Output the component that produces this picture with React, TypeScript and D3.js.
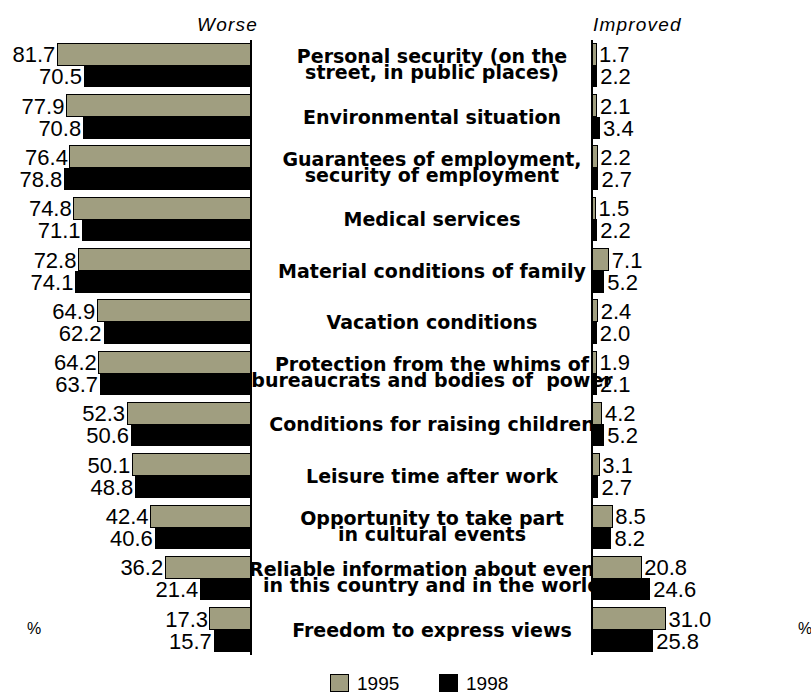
import React from "react";
import * as d3 from "d3";

const categories: string[][] = [
  ["Personal security (on the", "street, in public places)"],
  ["Environmental situation"],
  ["Guarantees of employment,", "security of employment"],
  ["Medical services"],
  ["Material conditions of family"],
  ["Vacation conditions"],
  ["Protection from the whims of", "bureaucrats and bodies of  power"],
  ["Conditions for raising children"],
  ["Leisure time after work"],
  ["Opportunity to take part", "in cultural events"],
  ["Reliable information about events", "in this country and in the world"],
  ["Freedom to express views"],
];

const years = ["1995", "1998"];

const worse1995 = [81.7, 77.9, 76.4, 74.8, 72.8, 64.9, 64.2, 52.3, 50.1, 42.4, 36.2, 17.3];
const worse1998 = [70.5, 70.8, 78.8, 71.1, 74.1, 62.2, 63.7, 50.6, 48.8, 40.6, 21.4, 15.7];
const improved1995 = [1.7, 2.1, 2.2, 1.5, 7.1, 2.4, 1.9, 4.2, 3.1, 8.5, 20.8, 31.0];
const improved1998 = [2.2, 3.4, 2.7, 2.2, 5.2, 2.0, 2.1, 5.2, 2.7, 8.2, 24.6, 25.8];

const W = 811;
const H = 694;
const TAN = "#a09e80";
const colors: Record<string, string> = { "1995": TAN, "1998": "#000000" };

export default function App() {
  const leftZero = 251;
  const rightZero = 592;
  const pxPerUnit = 2.37;
  const y = d3
    .scaleBand<number>()
    .domain(d3.range(categories.length))
    .range([39.66, 655.26])
    .paddingInner(0.142)
    .paddingOuter(0.071);
  const ySub = d3.scaleBand<string>().domain(years).range([0, y.bandwidth()]);
  const xL = d3.scaleLinear().domain([0, 100]).range([leftZero, leftZero - 100 * pxPerUnit]);
  const xR = d3.scaleLinear().domain([0, 100]).range([rightZero, rightZero + 100 * pxPerUnit]);

  const worse: Record<string, number[]> = { "1995": worse1995, "1998": worse1998 };
  const improved: Record<string, number[]> = { "1995": improved1995, "1998": improved1998 };

  const labelX = 432;
  const valueFont = "'Liberation Sans', Arial, sans-serif";
  const catFont = "'DejaVu Sans', sans-serif";

  return (
    <svg
      width={W}
      height={H}
      viewBox={`0 0 ${W} ${H}`}
      style={{ position: "absolute", left: 0, top: 0, background: "#fff" }}
    >
      <rect x={0} y={0} width={W} height={H} fill="#fff" />
      {/* headers */}
      <text
        x={leftZero + 7}
        y={31}
        textAnchor="end"
        fontFamily={valueFont}
        fontStyle="italic"
        fontSize={19}
        letterSpacing={1.2}
        fill="#000"
      >
        Worse
      </text>
      <text
        x={rightZero + 1}
        y={31}
        textAnchor="start"
        fontFamily={valueFont}
        fontStyle="italic"
        fontSize={19}
        letterSpacing={1.2}
        fill="#000"
      >
        Improved
      </text>

      {/* category labels (drawn beneath bars) */}
      {categories.map((lines, i) => {
        const mid = (y(i) as number) + y.bandwidth() / 2;
        const baselines = lines.length === 1 ? [mid + 7] : [mid - 2, mid + 14];
        return lines.map((ln, j) => (
          <text
            key={`c${i}-${j}`}
            x={labelX}
            y={baselines[j]}
            textAnchor="middle"
            fontFamily={catFont}
            fontWeight="bold"
            fontSize={19}
            fill="#000"
            style={{ whiteSpace: "pre" }}
          >
            {ln}
          </text>
        ));
      })}

      {/* bars */}
      {categories.map((_, i) =>
        years.map((yr) => {
          const y0 = (y(i) as number) + (ySub(yr) as number);
          const h = ySub.bandwidth();
          const wv = worse[yr][i];
          const iv = improved[yr][i];
          const stroke = yr === "1995" ? "#000" : "none";
          return (
            <g key={`b${i}-${yr}`} shapeRendering="crispEdges">
              <rect
                x={xL(wv)}
                y={y0}
                width={leftZero - xL(wv)}
                height={h}
                fill={colors[yr]}
                stroke={stroke}
                strokeWidth={1}
              />
              <rect
                x={rightZero}
                y={y0}
                width={xR(iv) - rightZero}
                height={h}
                fill={colors[yr]}
                stroke={stroke}
                strokeWidth={1}
              />
            </g>
          );
        })
      )}

      {/* value labels */}
      {categories.map((_, i) =>
        years.map((yr) => {
          const y0 = (y(i) as number) + (ySub(yr) as number);
          const mid = y0 + ySub.bandwidth() / 2;
          const wv = worse[yr][i];
          const iv = improved[yr][i];
          return (
            <g key={`v${i}-${yr}`}>
              <text
                x={xL(wv) - 2}
                y={mid + 8}
                textAnchor="end"
                fontFamily={valueFont}
                fontSize={22}
                fill="#000"
              >
                {wv.toFixed(1)}
              </text>
              <text
                x={xR(iv) + 3}
                y={mid + 8}
                textAnchor="start"
                fontFamily={valueFont}
                fontSize={22}
                fill="#000"
              >
                {iv.toFixed(1)}
              </text>
            </g>
          );
        })
      )}

      {/* axis lines */}
      <line x1={leftZero} x2={leftZero} y1={40} y2={655} stroke="#000" strokeWidth={2} />
      <line x1={rightZero} x2={rightZero} y1={40} y2={655} stroke="#000" strokeWidth={2} />

      {/* percent marks */}
      <text x={34} y={634} textAnchor="middle" fontFamily={valueFont} fontSize={16} fill="#000">
        %
      </text>
      <text x={805} y={634} textAnchor="middle" fontFamily={valueFont} fontSize={16} fill="#000">
        %
      </text>

      {/* legend */}
      {years.map((yr, k) => {
        const lx = 330 + k * 109;
        return (
          <g key={`lg${yr}`}>
            <rect
              x={lx}
              y={674}
              width={18}
              height={17}
              fill={colors[yr]}
              stroke="#000"
              strokeWidth={1}
              shapeRendering="crispEdges"
            />
            <text x={lx + 27} y={690} fontFamily={valueFont} fontSize={19} fill="#000">
              {yr}
            </text>
          </g>
        );
      })}
    </svg>
  );
}
